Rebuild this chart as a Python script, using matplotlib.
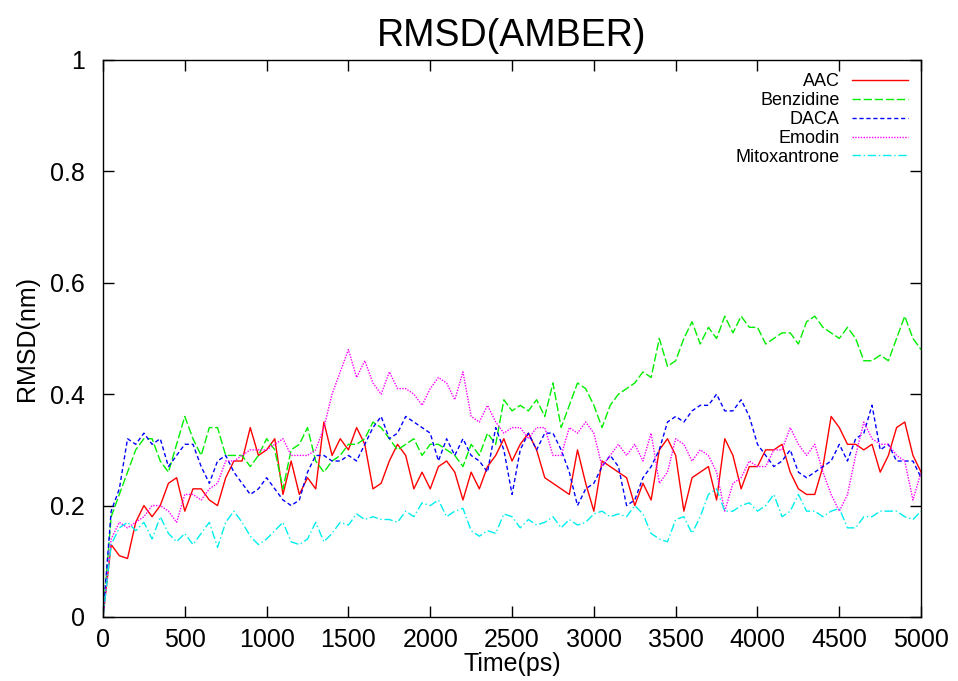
import numpy as np
import matplotlib
matplotlib.use('Agg')
import matplotlib.pyplot as plt

plt.rcParams['font.family'] = ['Liberation Sans', 'DejaVu Sans']

# time grid, every 50 ps
time_ps = np.arange(0, 5001, 50)

aac = [0.0, 0.13, 0.11, 0.105, 0.17, 0.20, 0.18, 0.20, 0.24, 0.25,
       0.19, 0.23, 0.23, 0.21, 0.20, 0.25, 0.28, 0.28, 0.34, 0.29,
       0.30, 0.32, 0.22, 0.28, 0.22, 0.25, 0.23, 0.35, 0.29, 0.32,
       0.30, 0.34, 0.31, 0.23, 0.24, 0.28, 0.31, 0.29, 0.23, 0.26,
       0.23, 0.27, 0.28, 0.26, 0.21, 0.26, 0.23, 0.27, 0.29, 0.32,
       0.28, 0.31, 0.33, 0.30, 0.25, 0.24, 0.23, 0.22, 0.30, 0.24,
       0.19, 0.28, 0.27, 0.26, 0.25, 0.20, 0.24, 0.21, 0.30, 0.32,
       0.29, 0.19, 0.25, 0.26, 0.27, 0.21, 0.32, 0.29, 0.23, 0.27,
       0.27, 0.30, 0.30, 0.31, 0.26, 0.23, 0.22, 0.22, 0.27, 0.36,
       0.34, 0.31, 0.31, 0.30, 0.31, 0.26, 0.29, 0.34, 0.35, 0.29,
       0.26]

benzidine = [0.0, 0.18, 0.22, 0.26, 0.30, 0.32, 0.32, 0.28, 0.26, 0.31,
             0.36, 0.32, 0.29, 0.34, 0.34, 0.29, 0.29, 0.29, 0.27, 0.29,
             0.32, 0.30, 0.23, 0.30, 0.31, 0.34, 0.28, 0.26, 0.28, 0.29,
             0.31, 0.31, 0.32, 0.35, 0.34, 0.32, 0.30, 0.31, 0.32, 0.29,
             0.31, 0.31, 0.30, 0.29, 0.27, 0.31, 0.29, 0.33, 0.31, 0.39,
             0.37, 0.38, 0.37, 0.39, 0.36, 0.42, 0.34, 0.38, 0.42, 0.41,
             0.38, 0.34, 0.38, 0.40, 0.41, 0.42, 0.44, 0.43, 0.50, 0.45,
             0.46, 0.50, 0.53, 0.49, 0.52, 0.50, 0.54, 0.51, 0.54, 0.52,
             0.52, 0.49, 0.50, 0.51, 0.51, 0.49, 0.53, 0.54, 0.52, 0.51,
             0.50, 0.52, 0.50, 0.46, 0.46, 0.47, 0.46, 0.50, 0.54, 0.50,
             0.48]

daca = [0.0, 0.19, 0.23, 0.32, 0.31, 0.33, 0.31, 0.32, 0.27, 0.29,
        0.31, 0.31, 0.27, 0.24, 0.28, 0.29, 0.26, 0.24, 0.22, 0.23,
        0.25, 0.23, 0.21, 0.20, 0.21, 0.26, 0.29, 0.29, 0.28, 0.28,
        0.29, 0.28, 0.31, 0.34, 0.36, 0.32, 0.33, 0.36, 0.35, 0.34,
        0.33, 0.28, 0.32, 0.29, 0.32, 0.29, 0.28, 0.26, 0.34, 0.30,
        0.22, 0.30, 0.33, 0.30, 0.33, 0.33, 0.30, 0.26, 0.20, 0.23,
        0.24, 0.27, 0.29, 0.27, 0.20, 0.21, 0.25, 0.27, 0.30, 0.35,
        0.36, 0.35, 0.37, 0.38, 0.38, 0.40, 0.37, 0.37, 0.39, 0.36,
        0.31, 0.29, 0.27, 0.28, 0.30, 0.26, 0.25, 0.26, 0.27, 0.28,
        0.31, 0.28, 0.32, 0.33, 0.38, 0.30, 0.31, 0.28, 0.28, 0.28,
        0.25]

emodin = [0.0, 0.14, 0.17, 0.16, 0.17, 0.18, 0.20, 0.20, 0.19, 0.17,
          0.22, 0.22, 0.21, 0.23, 0.24, 0.28, 0.28, 0.29, 0.30, 0.30,
          0.30, 0.31, 0.32, 0.29, 0.29, 0.29, 0.30, 0.34, 0.40, 0.44,
          0.48, 0.43, 0.46, 0.42, 0.40, 0.44, 0.41, 0.41, 0.40, 0.38,
          0.41, 0.43, 0.42, 0.39, 0.44, 0.36, 0.35, 0.38, 0.35, 0.33,
          0.34, 0.34, 0.32, 0.34, 0.34, 0.29, 0.29, 0.34, 0.33, 0.35,
          0.33, 0.27, 0.29, 0.31, 0.29, 0.31, 0.28, 0.33, 0.24, 0.26,
          0.32, 0.31, 0.28, 0.30, 0.29, 0.26, 0.19, 0.24, 0.25, 0.28,
          0.27, 0.27, 0.30, 0.30, 0.34, 0.31, 0.29, 0.31, 0.26, 0.22,
          0.19, 0.22, 0.29, 0.35, 0.32, 0.31, 0.31, 0.29, 0.28, 0.21,
          0.26]

mitoxantrone = [0.0, 0.13, 0.16, 0.17, 0.155, 0.17, 0.14, 0.18, 0.15, 0.135,
                0.15, 0.13, 0.15, 0.17, 0.125, 0.17, 0.19, 0.17, 0.145, 0.13,
                0.14, 0.155, 0.17, 0.135, 0.13, 0.14, 0.17, 0.135, 0.15, 0.17,
                0.165, 0.185, 0.175, 0.18, 0.175, 0.175, 0.17, 0.19, 0.18, 0.205,
                0.20, 0.21, 0.18, 0.19, 0.195, 0.155, 0.145, 0.155, 0.15, 0.185,
                0.18, 0.16, 0.175, 0.165, 0.17, 0.18, 0.16, 0.175, 0.165, 0.17,
                0.185, 0.19, 0.18, 0.185, 0.18, 0.20, 0.185, 0.15, 0.14, 0.135,
                0.175, 0.18, 0.15, 0.18, 0.22, 0.23, 0.19, 0.19, 0.20, 0.205,
                0.19, 0.20, 0.22, 0.18, 0.19, 0.22, 0.19, 0.19, 0.18, 0.19,
                0.195, 0.16, 0.16, 0.18, 0.18, 0.19, 0.19, 0.19, 0.18, 0.175,
                0.19]

names = ['AAC', 'Benzidine', 'DACA', 'Emodin', 'Mitoxantrone']
series = [aac, benzidine, daca, emodin, mitoxantrone]
colors = ['#ff0000', '#00ee00', '#0000ff', '#ff00ff', '#00eeee']
styles = ['-', (0, (6, 2)), (0, (3, 2)), (0, (1, 1)), (0, (6, 2, 1, 2))]

fig = plt.figure(figsize=(9.58, 6.81), dpi=100)
ax = fig.add_axes([0.1075, 0.094, 0.854, 0.818])

for name, vals, c, ls in zip(names, series, colors, styles):
    ax.plot(time_ps, vals, color=c, linestyle=ls, linewidth=1.0, label=name)

ax.set_xlim(0, 5000)
ax.set_ylim(0, 1)
ax.set_xticks(np.arange(0, 5001, 500))
ax.set_yticks([0, 0.2, 0.4, 0.6, 0.8, 1.0])
ax.set_yticklabels(['0', '0.2', '0.4', '0.6', '0.8', '1'])
ax.tick_params(direction='in', length=8, width=1, labelsize=18,
               top=True, right=True)
ax.tick_params(axis='y', pad=13)
ax.tick_params(axis='x', pad=8)
for sp in ax.spines.values():
    sp.set_linewidth(1.0)

ax.set_title('RMSD(AMBER)', fontsize=27, pad=10)
ax.set_xlabel('Time(ps)', fontsize=18, labelpad=0)
ax.set_ylabel('RMSD(nm)', fontsize=18, labelpad=8)

ax.legend(loc='upper right', frameon=False, markerfirst=False,
          fontsize=13, handlelength=3.1, handletextpad=0.65,
          labelspacing=0.1, borderaxespad=0.45, borderpad=0.3)

fig.savefig('out.png', dpi=100)
